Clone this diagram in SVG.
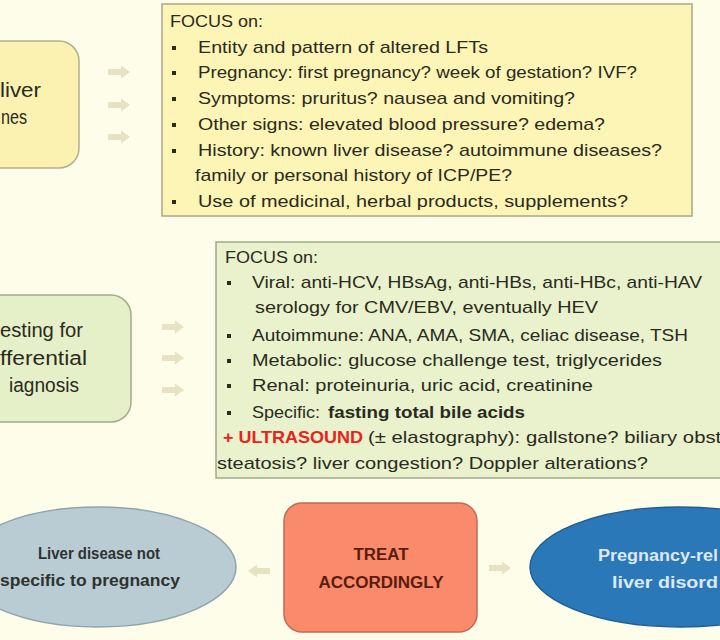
<svg xmlns="http://www.w3.org/2000/svg" width="720" height="640" viewBox="0 0 720 640">
<defs>
<style>
text{font-family:"Liberation Sans",Arial,sans-serif;}
.t{font-size:17px;fill:#2a2a1e;}
.big{font-size:20px;fill:#2a2a1e;}
.b{font-size:16px;font-weight:bold;}
.bul{fill:#2a2a1e;}
.arr{fill:#e8e2c4;}
</style>
<path id="ar" d="M0,-3 H13 V-6.5 L22,0 L13,6.5 V3 H0 Z"/>
</defs>
<rect width="720" height="640" fill="#fefde9"/>

<g id="node-top-left">
<rect x="-40" y="41" width="119" height="127" rx="20" fill="#fbf2b2" stroke="#b3ae8e" stroke-width="1.5"/>
<text class="big" x="0" y="97" textLength="41" lengthAdjust="spacingAndGlyphs">liver</text>
<text class="big" x="1" y="124" textLength="26" lengthAdjust="spacingAndGlyphs">nes</text>
</g>

<g id="node-top-focus">
<rect x="162" y="4" width="530" height="212" fill="#fdf5b5" stroke="#aaa78c" stroke-width="1.5"/>
<text class="t" x="170" y="27" textLength="93" lengthAdjust="spacingAndGlyphs">FOCUS on:</text>
<g class="bul">
<rect x="172" y="46" width="4" height="4"/>
<rect x="172" y="71" width="4" height="4"/>
<rect x="172" y="97" width="4" height="4"/>
<rect x="172" y="123" width="4" height="4"/>
<rect x="172" y="149" width="4" height="4"/>
<rect x="172" y="200" width="4" height="4"/>
</g>
<text class="t" x="198" y="53" textLength="290" lengthAdjust="spacingAndGlyphs">Entity and pattern of altered LFTs</text>
<text class="t" x="198" y="78" textLength="439" lengthAdjust="spacingAndGlyphs">Pregnancy: first pregnancy? week of gestation? IVF?</text>
<text class="t" x="198" y="104" textLength="377" lengthAdjust="spacingAndGlyphs">Symptoms: pruritus? nausea and vomiting?</text>
<text class="t" x="198" y="130" textLength="407" lengthAdjust="spacingAndGlyphs">Other signs: elevated blood pressure? edema?</text>
<text class="t" x="198" y="156" textLength="464" lengthAdjust="spacingAndGlyphs">History: known liver disease? autoimmune diseases?</text>
<text class="t" x="195" y="181" textLength="317" lengthAdjust="spacingAndGlyphs">family or personal history of ICP/PE?</text>
<text class="t" x="198" y="207" textLength="430" lengthAdjust="spacingAndGlyphs">Use of medicinal, herbal products, supplements?</text>
</g>

<g id="node-mid-left">
<rect x="-40" y="295" width="171" height="127" rx="20" fill="#e6f0c8" stroke="#a3ab8a" stroke-width="1.5"/>
<text class="big" x="0" y="337" textLength="83" lengthAdjust="spacingAndGlyphs">esting for</text>
<text class="big" x="0" y="365" textLength="87" lengthAdjust="spacingAndGlyphs">fferential</text>
<text class="big" x="79" y="392" text-anchor="end" textLength="70" lengthAdjust="spacingAndGlyphs">iagnosis</text>
</g>

<g id="node-mid-focus">
<rect x="216" y="242" width="530" height="236" fill="#e9f2cc" stroke="#a0a88a" stroke-width="1.5"/>
<text class="t" x="225" y="263" textLength="93" lengthAdjust="spacingAndGlyphs">FOCUS on:</text>
<g class="bul">
<rect x="227" y="281" width="4" height="4"/>
<rect x="227" y="334" width="4" height="4"/>
<rect x="227" y="359" width="4" height="4"/>
<rect x="227" y="384" width="4" height="4"/>
<rect x="227" y="411" width="4" height="4"/>
</g>
<text class="t" x="252" y="288" textLength="450" lengthAdjust="spacingAndGlyphs">Viral: anti-HCV, HBsAg, anti-HBs, anti-HBc, anti-HAV</text>
<text class="t" x="255" y="313" textLength="343" lengthAdjust="spacingAndGlyphs">serology for CMV/EBV, eventually HEV</text>
<text class="t" x="252" y="341" textLength="436" lengthAdjust="spacingAndGlyphs">Autoimmune: ANA, AMA, SMA, celiac disease, TSH</text>
<text class="t" x="252" y="366" textLength="410" lengthAdjust="spacingAndGlyphs">Metabolic: glucose challenge test, triglycerides</text>
<text class="t" x="252" y="391" textLength="341" lengthAdjust="spacingAndGlyphs">Renal: proteinuria, uric acid, creatinine</text>
<text class="t" x="252" y="418" textLength="68" lengthAdjust="spacingAndGlyphs">Specific:</text>
<text class="t" x="328" y="418" textLength="197" lengthAdjust="spacingAndGlyphs" font-weight="bold">fasting total bile acids</text>
<text class="t" x="223" y="443" textLength="140" lengthAdjust="spacingAndGlyphs" font-weight="bold" style="fill:#e8231e">+ ULTRASOUND</text>
<text class="t" x="368" y="443" textLength="360" lengthAdjust="spacingAndGlyphs">(± elastography): gallstone? biliary obstr</text>
<text class="t" x="217" y="469" textLength="431" lengthAdjust="spacingAndGlyphs">steatosis? liver congestion? Doppler alterations?</text>
</g>

<g id="node-not-specific">
<ellipse cx="98" cy="567" rx="138" ry="60" fill="#b9ccd4" stroke="#8fa3ab" stroke-width="1.5"/>
<text class="b" x="99" y="559" text-anchor="middle" fill="#2e3330" textLength="122" lengthAdjust="spacingAndGlyphs">Liver disease not</text>
<text class="b" x="90" y="586" text-anchor="middle" fill="#2e3330" textLength="180" lengthAdjust="spacingAndGlyphs">specific to pregnancy</text>
</g>

<g id="node-treat">
<rect x="284" y="503" width="193" height="129" rx="18" fill="#f98a6c" stroke="#c26a52" stroke-width="1.5"/>
<text class="b" x="381" y="560" text-anchor="middle" fill="#5a1c0c" textLength="55" lengthAdjust="spacingAndGlyphs">TREAT</text>
<text class="b" x="381" y="588" text-anchor="middle" fill="#5a1c0c" textLength="125" lengthAdjust="spacingAndGlyphs">ACCORDINGLY</text>
</g>

<g id="node-pregnancy-related">
<ellipse cx="680" cy="567" rx="150" ry="60" fill="#2b78b8" stroke="#1f5f94" stroke-width="1.5"/>
<text class="b" x="598" y="561" fill="#dde8f2" textLength="120" lengthAdjust="spacingAndGlyphs">Pregnancy-rel</text>
<text class="b" x="612" y="588" fill="#dde8f2" textLength="106" lengthAdjust="spacingAndGlyphs">liver disord</text>
</g>

<g id="connectors" class="arr">
<use href="#ar" x="108" y="72"/>
<use href="#ar" x="108" y="105"/>
<use href="#ar" x="108" y="137"/>
<use href="#ar" x="162" y="327"/>
<use href="#ar" x="162" y="358"/>
<use href="#ar" x="162" y="390"/>
<use href="#ar" transform="translate(270,571) scale(-1,1)"/>
<use href="#ar" x="489" y="568"/>
</g>
</svg>
